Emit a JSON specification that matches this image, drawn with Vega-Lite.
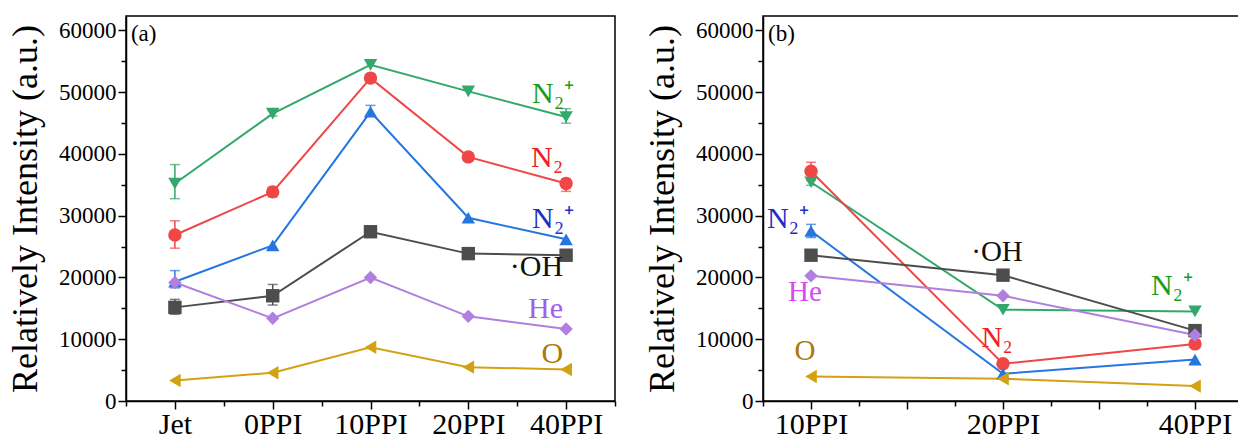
{
  "$schema": "https://vega.github.io/schema/vega-lite/v6.json",
  "background": "white",
  "padding": {"left": 6, "top": 15, "right": 0, "bottom": 0},
  "spacing": 26,
  "datasets": {
    "a": [
      {"series": "N2+ (green)", "x": "Jet", "value": 35200, "lo": 32740, "hi": 38260},
      {"series": "N2+ (green)", "x": "0PPI", "value": 46500, "lo": 46100, "hi": 46900},
      {"series": "N2+ (green)", "x": "10PPI", "value": 54400, "lo": null, "hi": null},
      {"series": "N2+ (green)", "x": "20PPI", "value": 50100, "lo": null, "hi": null},
      {"series": "N2+ (green)", "x": "40PPI", "value": 45950, "lo": 44950, "hi": 47300},
      {"series": "N2", "x": "Jet", "value": 26860, "lo": 24730, "hi": 29160},
      {"series": "N2", "x": "0PPI", "value": 33840, "lo": 33020, "hi": 34630},
      {"series": "N2", "x": "10PPI", "value": 52250, "lo": null, "hi": null},
      {"series": "N2", "x": "20PPI", "value": 39500, "lo": 39100, "hi": 39900},
      {"series": "N2", "x": "40PPI", "value": 35190, "lo": 33920, "hi": 35950},
      {"series": "N2+ (blue)", "x": "Jet", "value": 19300, "lo": 18300, "hi": 21100},
      {"series": "N2+ (blue)", "x": "0PPI", "value": 25190, "lo": null, "hi": null},
      {"series": "N2+ (blue)", "x": "10PPI", "value": 46800, "lo": 46120, "hi": 47840},
      {"series": "N2+ (blue)", "x": "20PPI", "value": 29650, "lo": null, "hi": null},
      {"series": "N2+ (blue)", "x": "40PPI", "value": 26160, "lo": null, "hi": null},
      {"series": "OH", "x": "Jet", "value": 15150, "lo": 14030, "hi": 16450},
      {"series": "OH", "x": "0PPI", "value": 17030, "lo": 15530, "hi": 18860},
      {"series": "OH", "x": "10PPI", "value": 27390, "lo": 26600, "hi": 28200},
      {"series": "OH", "x": "20PPI", "value": 23850, "lo": null, "hi": null},
      {"series": "OH", "x": "40PPI", "value": 23590, "lo": null, "hi": null},
      {"series": "He", "x": "Jet", "value": 19180, "lo": null, "hi": null},
      {"series": "He", "x": "0PPI", "value": 13380, "lo": null, "hi": null},
      {"series": "He", "x": "10PPI", "value": 19980, "lo": null, "hi": null},
      {"series": "He", "x": "20PPI", "value": 13700, "lo": null, "hi": null},
      {"series": "He", "x": "40PPI", "value": 11660, "lo": null, "hi": null},
      {"series": "O", "x": "Jet", "value": 3330, "lo": null, "hi": null},
      {"series": "O", "x": "0PPI", "value": 4570, "lo": null, "hi": null},
      {"series": "O", "x": "10PPI", "value": 8700, "lo": null, "hi": null},
      {"series": "O", "x": "20PPI", "value": 5480, "lo": null, "hi": null},
      {"series": "O", "x": "40PPI", "value": 5100, "lo": null, "hi": null}
    ],
    "b": [
      {"series": "N2+ (green)", "x": "10PPI", "value": 35400, "lo": 34900, "hi": 35900},
      {"series": "N2+ (green)", "x": "20PPI", "value": 14770, "lo": null, "hi": null},
      {"series": "N2+ (green)", "x": "40PPI", "value": 14500, "lo": null, "hi": null},
      {"series": "N2", "x": "10PPI", "value": 37170, "lo": 35690, "hi": 38630},
      {"series": "N2", "x": "20PPI", "value": 6020, "lo": null, "hi": null},
      {"series": "N2", "x": "40PPI", "value": 9240, "lo": 8700, "hi": 10300},
      {"series": "N2+ (blue)", "x": "10PPI", "value": 27500, "lo": 26450, "hi": 28580},
      {"series": "N2+ (blue)", "x": "20PPI", "value": 4400, "lo": null, "hi": null},
      {"series": "N2+ (blue)", "x": "40PPI", "value": 6700, "lo": null, "hi": null},
      {"series": "OH", "x": "10PPI", "value": 23590, "lo": null, "hi": null},
      {"series": "OH", "x": "20PPI", "value": 20360, "lo": null, "hi": null},
      {"series": "OH", "x": "40PPI", "value": 11390, "lo": null, "hi": null},
      {"series": "He", "x": "10PPI", "value": 20250, "lo": null, "hi": null},
      {"series": "He", "x": "20PPI", "value": 17030, "lo": null, "hi": null},
      {"series": "He", "x": "40PPI", "value": 10690, "lo": null, "hi": null},
      {"series": "O", "x": "10PPI", "value": 3970, "lo": null, "hi": null},
      {"series": "O", "x": "20PPI", "value": 3600, "lo": null, "hi": null},
      {"series": "O", "x": "40PPI", "value": 2410, "lo": null, "hi": null}
    ],
    "la": [
      {"series": "N2+ (green)", "x": "40PPI", "value": 48260, "text": "N₂⁺"},
      {"series": "N2", "x": "40PPI", "value": 37840, "text": "N₂"},
      {"series": "N2+ (blue)", "x": "40PPI", "value": 27940, "text": "N₂⁺"},
      {"series": "OH", "x": "40PPI", "value": 20180, "text": "·OH"},
      {"series": "He", "x": "40PPI", "value": 13500, "text": "He"},
      {"series": "O", "x": "40PPI", "value": 6180, "text": "O"}
    ],
    "lb": [
      {"series": "N2+ (blue)", "x": "10PPI", "value": 27940, "text": "N₂⁺"},
      {"series": "He", "x": "10PPI", "value": 16180, "text": "He"},
      {"series": "O", "x": "10PPI", "value": 6660, "text": "O"},
      {"series": "OH", "x": "20PPI", "value": 22580, "text": "·OH"},
      {"series": "N2", "x": "20PPI", "value": 8700, "text": "N₂"},
      {"series": "N2+ (green)", "x": "40PPI", "value": 17100, "text": "N₂⁺"}
    ],
    "pa": [{"x": "Jet", "value": 61100, "text": "(a)"}],
    "pb": [{"x": "10PPI", "value": 61100, "text": "(b)"}]
  },
  "hconcat": [
    {
      "width": 489,
      "height": 385,
      "data": {"name": "a"},
      "encoding": {
        "x": {
          "field": "x", "type": "ordinal",
          "scale": {"type": "point", "padding": 0, "domain": ["e0", "Jet", "m1", "0PPI", "m2", "10PPI", "m3", "20PPI", "m4", "40PPI", "e5"]},
          "axis": {
            "title": null, "labelAngle": 0,
            "labelExpr": "(indexof(datum.value,'PPI') > 0 || datum.value == 'Jet') ? datum.value : ''",
            "tickSize": {"condition": {"test": "indexof(datum.value,'PPI') > 0 || datum.value == 'Jet'", "value": 8}, "value": 5},
            "labelPadding": 0
          }
        },
        "y": {
          "field": "value", "type": "quantitative",
          "scale": {"domain": [0, 62300], "nice": false, "zero": true},
          "title": "Relatively Intensity (a.u.)",
          "axis": {
            "values": [0, 5000, 10000, 15000, 20000, 25000, 30000, 35000, 40000, 45000, 50000, 55000, 60000],
            "format": "d",
            "labelExpr": "datum.value % 10000 == 0 ? datum.label : ''",
            "tickSize": {"condition": {"test": "datum.value % 10000 == 0", "value": 8}, "value": 5}
          }
        }
      },
      "layer": [
        {
          "mark": {"type": "line", "strokeWidth": 2},
          "encoding": {
            "color": {"field": "series", "type": "nominal", "legend": null,
              "scale": {"domain": ["N2+ (green)", "N2", "N2+ (blue)", "OH", "He", "O"], "range": ["#33a86a", "#ef4646", "#2676e0", "#4d4d4d", "#b07fe0", "#d3a112"]}},
            "order": {"value": null}
          }
        },
        {
          "transform": [{"filter": "isValid(datum.lo)"}],
          "mark": {"type": "errorbar", "ticks": true, "thickness": 1.5, "size": 10},
          "encoding": {
            "y": {"field": "lo", "type": "quantitative", "title": "Relatively Intensity (a.u.)"},
            "y2": {"field": "hi"},
            "color": {"field": "series", "type": "nominal", "legend": null,
              "scale": {"domain": ["N2+ (green)", "N2", "N2+ (blue)", "OH", "He", "O"], "range": ["#33a86a", "#ef4646", "#2676e0", "#4d4d4d", "#b07fe0", "#d3a112"]}}
          }
        },
        {
          "mark": {"type": "point", "filled": true, "opacity": 1, "size": 180},
          "encoding": {
            "color": {"field": "series", "type": "nominal", "legend": null,
              "scale": {"domain": ["N2+ (green)", "N2", "N2+ (blue)", "OH", "He", "O"], "range": ["#33a86a", "#ef4646", "#2676e0", "#4d4d4d", "#b07fe0", "#d3a112"]}},
            "shape": {"field": "series", "type": "nominal", "legend": null,
              "scale": {"domain": ["N2+ (green)", "N2", "N2+ (blue)", "OH", "He", "O"], "range": ["triangle-down", "circle", "triangle-up", "square", "diamond", "triangle-left"]}}
          }
        },
        {
          "data": {"name": "la"},
          "transform": [{"filter": "indexof(datum.series,'N2+') == 0"}],
          "mark": {"type": "text", "align": "right", "baseline": "alphabetic", "dx": 8, "font": "Liberation Serif", "fontSize": 30},
          "encoding": {
            "text": {"field": "text"},
            "color": {"field": "series", "type": "nominal", "legend": null,
              "scale": {"domain": ["N2+ (green)", "N2", "N2+ (blue)", "OH", "He", "O"], "range": ["#1a9e1a", "#ee2222", "#1f2fc8", "#111111", "#a35ef0", "#a87a08"]}}
          }
        },
        {
          "data": {"name": "la"},
          "transform": [{"filter": "indexof(datum.series,'N2+') != 0"}],
          "mark": {"type": "text", "align": "right", "baseline": "alphabetic", "dx": -3, "font": "Liberation Serif", "fontSize": 30},
          "encoding": {
            "text": {"field": "text"},
            "color": {"field": "series", "type": "nominal", "legend": null,
              "scale": {"domain": ["N2+ (green)", "N2", "N2+ (blue)", "OH", "He", "O"], "range": ["#1a9e1a", "#ee2222", "#1f2fc8", "#111111", "#a35ef0", "#a87a08"]}}
          }
        },
        {
          "data": {"name": "pa"},
          "mark": {"type": "text", "align": "left", "baseline": "top", "dx": -44, "font": "Liberation Serif", "fontSize": 23, "color": "black"},
          "encoding": {"text": {"field": "text"}}
        }
      ],
      "resolve": {"scale": {"color": "independent"}}
    },
    {
      "width": 480,
      "height": 385,
      "data": {"name": "b"},
      "encoding": {
        "x": {
          "field": "x", "type": "ordinal",
          "scale": {"type": "point", "padding": 0, "domain": ["e0", "10PPI", "q1", "h1", "q2", "20PPI", "q3", "h2", "q4", "40PPI", "e1"]},
          "axis": {
            "title": null, "labelAngle": 0,
            "labelExpr": "indexof(datum.value,'PPI') > 0 ? datum.value : ''",
            "tickSize": {"condition": {"test": "indexof(datum.value,'PPI') > 0 || indexof(datum.value,'h') == 0", "value": 8}, "value": 5},
            "labelPadding": 0
          }
        },
        "y": {
          "field": "value", "type": "quantitative",
          "scale": {"domain": [0, 62300], "nice": false, "zero": true},
          "title": "Relatively Intensity (a.u.)",
          "axis": {
            "values": [0, 5000, 10000, 15000, 20000, 25000, 30000, 35000, 40000, 45000, 50000, 55000, 60000],
            "format": "d",
            "labelExpr": "datum.value % 10000 == 0 ? datum.label : ''",
            "tickSize": {"condition": {"test": "datum.value % 10000 == 0", "value": 8}, "value": 5}
          }
        }
      },
      "layer": [
        {
          "mark": {"type": "line", "strokeWidth": 2},
          "encoding": {
            "color": {"field": "series", "type": "nominal", "legend": null,
              "scale": {"domain": ["N2+ (green)", "N2", "N2+ (blue)", "OH", "He", "O"], "range": ["#33a86a", "#ef4646", "#2676e0", "#4d4d4d", "#b07fe0", "#d3a112"]}},
            "order": {"value": null}
          }
        },
        {
          "transform": [{"filter": "isValid(datum.lo)"}],
          "mark": {"type": "errorbar", "ticks": true, "thickness": 1.5, "size": 10},
          "encoding": {
            "y": {"field": "lo", "type": "quantitative", "title": "Relatively Intensity (a.u.)"},
            "y2": {"field": "hi"},
            "color": {"field": "series", "type": "nominal", "legend": null,
              "scale": {"domain": ["N2+ (green)", "N2", "N2+ (blue)", "OH", "He", "O"], "range": ["#33a86a", "#ef4646", "#2676e0", "#4d4d4d", "#b07fe0", "#d3a112"]}}
          }
        },
        {
          "mark": {"type": "point", "filled": true, "opacity": 1, "size": 180},
          "encoding": {
            "color": {"field": "series", "type": "nominal", "legend": null,
              "scale": {"domain": ["N2+ (green)", "N2", "N2+ (blue)", "OH", "He", "O"], "range": ["#33a86a", "#ef4646", "#2676e0", "#4d4d4d", "#b07fe0", "#d3a112"]}},
            "shape": {"field": "series", "type": "nominal", "legend": null,
              "scale": {"domain": ["N2+ (green)", "N2", "N2+ (blue)", "OH", "He", "O"], "range": ["triangle-down", "circle", "triangle-up", "square", "diamond", "triangle-left"]}}
          }
        },
        {
          "data": {"name": "lb"},
          "transform": [{"filter": "indexof(datum.series,'N2+') == 0"}],
          "mark": {"type": "text", "align": "right", "baseline": "alphabetic", "dx": -2, "font": "Liberation Serif", "fontSize": 30},
          "encoding": {
            "text": {"field": "text"},
            "color": {"field": "series", "type": "nominal", "legend": null,
              "scale": {"domain": ["N2+ (green)", "N2", "N2+ (blue)", "OH", "He", "O"], "range": ["#1a9e1a", "#ee2222", "#1f2fc8", "#111111", "#d64cf2", "#a87a08"]}}
          }
        },
        {
          "data": {"name": "lb"},
          "transform": [{"filter": "indexof(datum.series,'N2+') != 0"}],
          "mark": {"type": "text", "align": "center", "baseline": "alphabetic", "dx": -6, "font": "Liberation Serif", "fontSize": 29},
          "encoding": {
            "text": {"field": "text"},
            "color": {"field": "series", "type": "nominal", "legend": null,
              "scale": {"domain": ["N2+ (green)", "N2", "N2+ (blue)", "OH", "He", "O"], "range": ["#1a9e1a", "#ee2222", "#1f2fc8", "#111111", "#d64cf2", "#a87a08"]}}
          }
        },
        {
          "data": {"name": "pb"},
          "mark": {"type": "text", "align": "left", "baseline": "top", "dx": -43, "font": "Liberation Serif", "fontSize": 23, "color": "black"},
          "encoding": {"text": {"field": "text"}}
        }
      ],
      "resolve": {"scale": {"color": "independent"}}
    }
  ],
  "resolve": {"scale": {"x": "independent", "y": "independent", "color": "independent", "shape": "independent"}},
  "config": {
    "view": {"stroke": "black", "strokeWidth": 1.5},
    "axis": {
      "grid": false,
      "domainColor": "black",
      "domainWidth": 1.5,
      "tickColor": "black",
      "tickWidth": 1.5,
      "labelColor": "black",
      "labelFont": "Liberation Serif",
      "titleFont": "Liberation Serif",
      "titleColor": "black",
      "titleFontWeight": "normal"
    },
    "axisX": {"labelFontSize": 30},
    "axisY": {"labelFontSize": 23, "titleFontSize": 36, "labelPadding": 2, "titlePadding": 14}
  }
}
